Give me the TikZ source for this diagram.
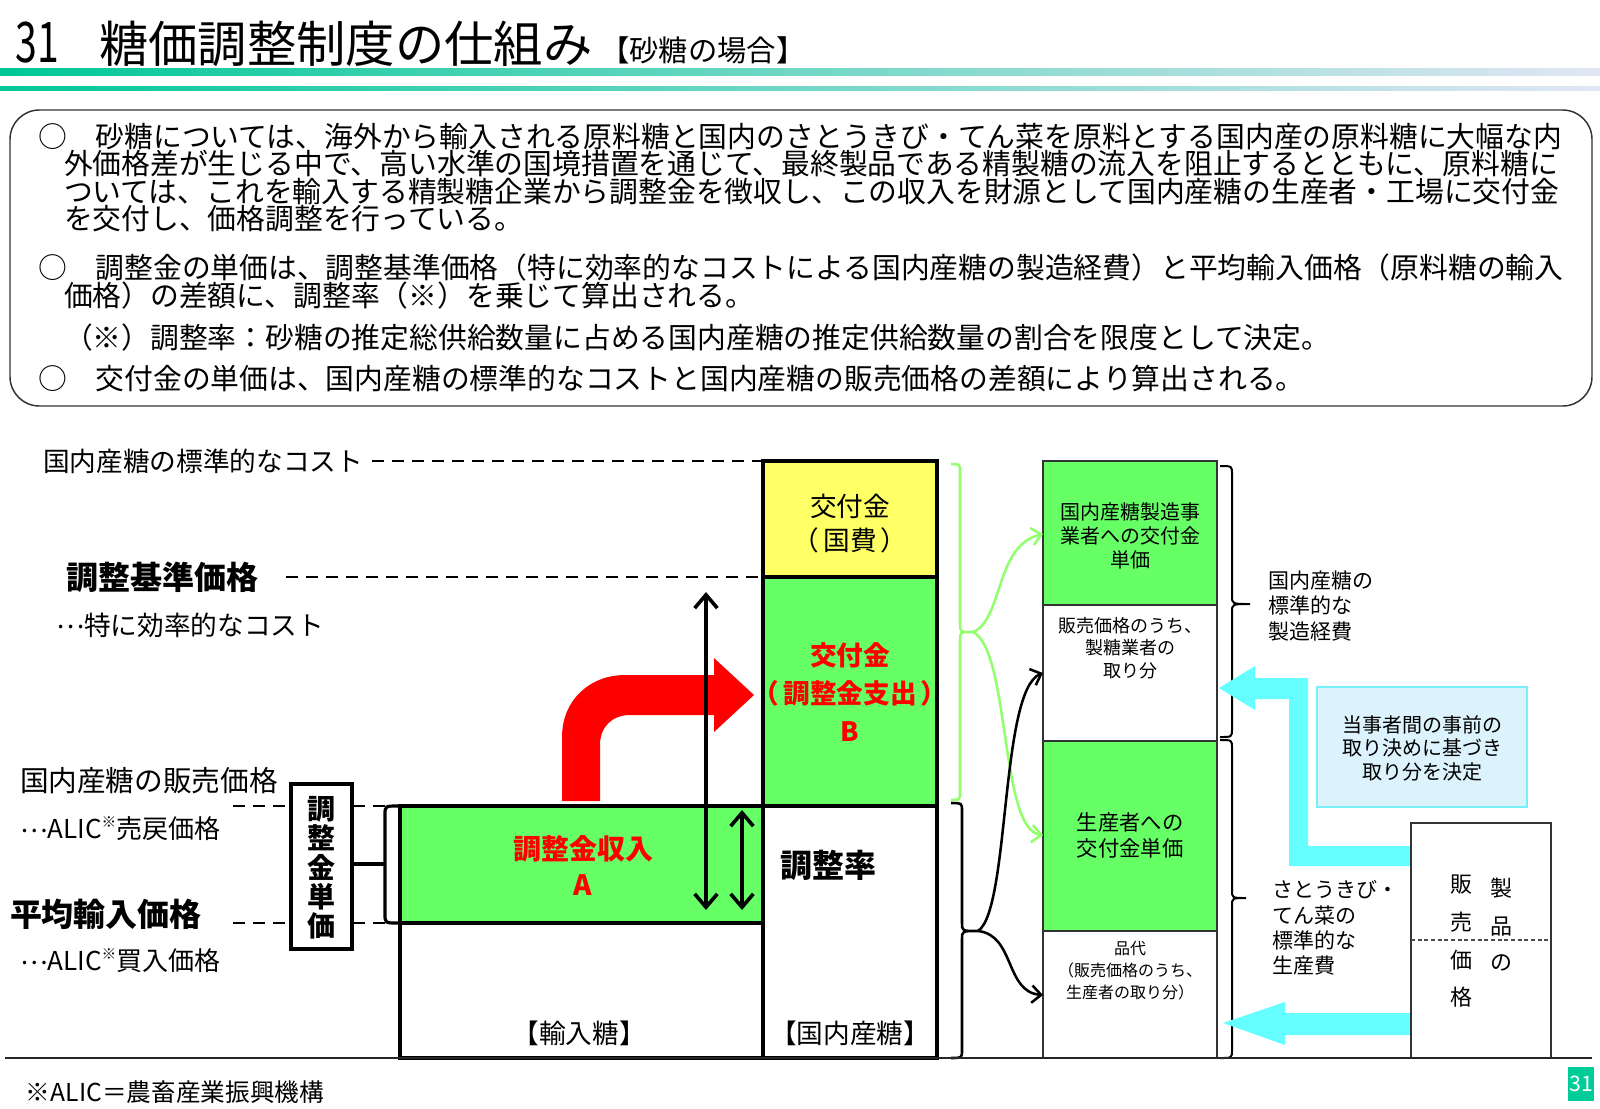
\documentclass[tikz,border=0pt]{standalone}
\usepackage{fontspec}
\usepackage{graphicx}
\setmainfont{Noto Sans CJK JP}
\usetikzlibrary{arrows.meta}
\definecolor{lgreen}{RGB}{102,255,102}
\definecolor{lyellow}{RGB}{255,255,102}
\definecolor{bracegreen}{RGB}{146,255,110}
\definecolor{cyanarrow}{RGB}{102,255,255}
\definecolor{cyanbox}{RGB}{220,242,252}
\definecolor{cyanborder}{RGB}{120,240,250}
\definecolor{tealA}{RGB}{0,200,150}
\definecolor{gradB}{RGB}{190,208,235}
\definecolor{gradC}{RGB}{225,230,245}
\definecolor{badge}{RGB}{0,204,153}
\newcommand{\fsz}[2]{\fontsize{#1}{#2}\selectfont}
\newcommand{\supmark}{\raisebox{0.42em}{\fsz{11}{11}※}}
\newcommand{\midell}{\raisebox{0.25em}{…}}
\newcommand{\mybrace}[7]{\draw[#1] (#2,#5) .. controls (#3,#5) .. (#3,#5+8) -- (#3,#6-8) .. controls (#3,#6) .. (#4,#6) .. controls (#3,#6) .. (#3,#6+8) -- (#3,#7-8) .. controls (#3,#7) .. (#2,#7);}
\tikzset{
  every node/.style={inner sep=0pt, outer sep=0pt},
  thickbox/.style={draw=black, line width=2.3pt},
  thinbox/.style={draw=black!80, line width=1.1pt},
  dl/.style={line width=2.1pt, dash pattern=on 9pt off 6pt},
  body/.style={anchor=base west, font=\fsz{21.6}{21.6}},
  dblarrow/.style={line width=2.7pt, {Straight Barb[length=10pt,width=17pt]}-{Straight Barb[length=10pt,width=17pt]}},
  curvarrow/.style={line width=1.9pt, -{Straight Barb[length=7pt,width=13pt]}},
}
\begin{document}
\begin{tikzpicture}[x=0.75pt,y=-0.75pt]
\useasboundingbox (0,0) rectangle (1600,1108);
\fill[white] (0,0) rectangle (1600,1108);

% ---------- title ----------
\node[anchor=base west, font=\fsz{42}{42}] (tnum) at (16,62) {\scalebox{0.7}[1]{31}};
\node[anchor=base west, font=\fsz{37}{37}] (title) at (99,62) {糖価調整制度の仕組み};
\node[anchor=base west, font=\fsz{22}{22}] (subtitle) at (600,61) {【砂糖の場合】};
\shade[left color=tealA, middle color=gradB, right color=gradC] (0,68) rectangle (1600,75);
\shade[left color=tealA, middle color=gradB, right color=gradC] (0,86) rectangle (1600,90);

% ---------- text box ----------
\draw[draw=black!80, line width=1.1pt, rounded corners=22pt] (10,110) rectangle (1592,406);
\node[body] (l1) at (38,147) {○　砂糖については、海外から輸入される原料糖と国内のさとうきび・てん菜を原料とする国内産の原料糖に大幅な内};
\node[body] (l2) at (64,174) {外価格差が生じる中で、高い水準の国境措置を通じて、最終製品である精製糖の流入を阻止するとともに、原料糖に};
\node[body] (l3) at (64,202) {ついては、これを輸入する精製糖企業から調整金を徴収し、この収入を財源として国内産糖の生産者・工場に交付金};
\node[body] (l4) at (64,229) {を交付し、価格調整を行っている。};
\node[body] (l5) at (38,278) {○　調整金の単価は、調整基準価格（特に効率的なコストによる国内産糖の製造経費）と平均輸入価格（原料糖の輸入};
\node[body] (l6) at (64,306) {価格）の差額に、調整率（※）を乗じて算出される。};
\node[body] (l7) at (64,348) {（※）調整率：砂糖の推定総供給数量に占める国内産糖の推定供給数量の割合を限度として決定。};
\node[body] (l8) at (38,389) {○　交付金の単価は、国内産糖の標準的なコストと国内産糖の販売価格の差額により算出される。};

% ---------- left labels and guide lines ----------
\node[anchor=west, font=\fsz{20}{20}] (lcost) at (43,461) {国内産糖の標準的なコスト};
\draw[dl] (372,461) -- (763,461);
\node[anchor=west, font=\bfseries\fsz{24}{24}] (kijun) at (66,577) {調整基準価格};
\draw[dl] (286,577) -- (763,577);
\node[anchor=west, font=\fsz{20}{20}] (kouritsu) at (56,625) {\midell 特に効率的なコスト};
\node[anchor=west, font=\fsz{21.5}{21.5}] (hanbai) at (20,781) {国内産糖の販売価格};
\node[anchor=west, font=\fsz{19.5}{19.5}] (uri) at (20,829) {\midell ALIC\supmark 売戻価格};
\node[anchor=west, font=\bfseries\fsz{24}{24}] (heikin) at (10,914) {平均輸入価格};
\node[anchor=west, font=\fsz{19.5}{19.5}] (kai) at (20,961) {\midell ALIC\supmark 買入価格};
\draw[dl] (233,806) -- (400,806);
\draw[dl] (233,923) -- (400,923);

% adjustment unit price box and brace
\draw[line width=2.6pt, fill=white] (291,784) rectangle (352,949);
\node[font=\bfseries\fsz{21}{22}, align=center] (tani) at (321.5,868) {調\\整\\金\\単\\価};
\draw[line width=2.4pt] (398,806) .. controls (385,806) .. (385,815) -- (385,914) .. controls (385,923) .. (398,923);
\draw[line width=2.4pt] (352,864) -- (385,864);

% ---------- bars ----------
\draw[thickbox, fill=lyellow] (763,461) rectangle (937,577);
\draw[thickbox, fill=lgreen] (763,577) rectangle (937,806);
\draw[thickbox, fill=white] (763,806) rectangle (937,1058);
\draw[thickbox, fill=lgreen] (400,806) rectangle (763,923);
\draw[thickbox, fill=white] (400,923) rectangle (763,1058);

\node[font=\fsz{20}{25.5}, align=center] (kofu) at (850,524) {交付金\\（\kern3pt 国費\kern3pt ）};
\node[font=\bfseries\fsz{20}{28.5}, align=center, text=red] (kofuB) at (850,692) {交付金\\（\kern3pt 調整金支出\kern3pt ）\\B};
\node[font=\bfseries\fsz{24}{24}] (ritsu) at (828,865) {調整率};
\node[font=\fsz{20}{20}] (kokunai) at (850,1033) {【国内産糖】};
\node[font=\bfseries\fsz{21}{27}, align=center, text=red] (shunyu) at (583,865) {調整金収入\\A};
\node[font=\fsz{20}{20}] (yunyu) at (579,1033) {【輸入糖】};

% red bent arrow
\fill[red] (562,801) -- (562,737) .. controls (562,700) and (590,675) .. (625,675) -- (714,675) -- (714,658) -- (754,695) -- (714,732) -- (714,715) -- (630,715) .. controls (612,715) and (600,727) .. (600,745) -- (600,801) -- cycle;

% black double arrows
\coordinate (ua) at (706,592);
\coordinate (ub) at (706,910);
\coordinate (va) at (742,810);
\coordinate (vb) at (742,910);
\draw[dblarrow] (ua) -- (ub);
\draw[dblarrow] (va) -- (vb);

% ---------- braces and curved arrows ----------
\mybrace{draw=bracegreen, line width=1.9pt}{951}{960}{973}{464}{632}{800}
\mybrace{draw=black, line width=1.9pt}{951}{962}{978}{803}{931}{1058}
\coordinate (gtip) at (973,632);
\coordinate (btip) at (978,931);

% ---------- right column ----------
\draw[thinbox, fill=lgreen] (1043,461) rectangle (1217,605);
\draw[thinbox, fill=white] (1043,605) rectangle (1217,741);
\draw[thinbox, fill=lgreen] (1043,741) rectangle (1217,931);
\draw[thinbox, fill=white] (1043,931) rectangle (1217,1058);
\coordinate (rc1) at (1043,534);
\coordinate (rc2) at (1043,673);
\coordinate (rc3) at (1043,835);
\coordinate (rc4) at (1043,995);

\node[font=\fsz{15}{18}, align=center] (rc1t) at (1130,536) {国内産糖製造事\\業者への交付金\\単価};
\node[font=\fsz{13.5}{17}, align=center] (rc2t) at (1130,648) {販売価格のうち、\\製糖業者の\\取り分};
\node[font=\fsz{16}{19.5}, align=center] (rc3t) at (1130,835) {生産者への\\交付金単価};
\node[font=\fsz{12}{16.5}, align=center] (rc4t) at (1130,971) {品代\\（販売価格のうち、\\生産者の取り分）};

\draw[curvarrow, bracegreen] (gtip) .. controls (1003,620) and (995,545) .. (rc1);
\draw[curvarrow, bracegreen] (gtip) .. controls (1010,650) and (1000,830) .. (rc3);
\draw[curvarrow, black] (btip) .. controls (1010,910) and (1000,690) .. (rc2);
\draw[curvarrow, black] (btip) .. controls (1015,935) and (1005,992) .. (rc4);

\mybrace{draw=black, line width=1.5pt}{1220}{1232}{1250}{466}{604}{737}
\mybrace{draw=black, line width=1.5pt}{1220}{1232}{1246}{740}{898}{1058}
\node[anchor=west, font=\fsz{15.75}{19}, align=left] (seizo) at (1268,606) {国内産糖の\\標準的な\\製造経費};
\node[anchor=west, font=\fsz{15.75}{19}, align=left] (seisan) at (1272,928) {さとうきび・\\てん菜の\\標準的な\\生産費};

% cyan arrows and box
\fill[cyanarrow] (1411,846) -- (1308,846) -- (1308,678) -- (1255,678) -- (1255,666) -- (1219,688) -- (1255,710) -- (1255,699) -- (1289,699) -- (1289,866) -- (1411,866) -- cycle;
\fill[cyanarrow] (1411,1013) -- (1285,1013) -- (1285,1002) -- (1223,1023) -- (1285,1045) -- (1285,1035) -- (1411,1035) -- cycle;
\draw[draw=cyanborder, line width=1.2pt, fill=cyanbox] (1317,687) rectangle (1527,807);
\node[font=\fsz{15}{17.6}, align=center] (kettei) at (1422,748) {当事者間の事前の\\取り決めに基づき\\取り分を決定};

% product price box
\draw[thinbox, fill=white] (1411,823) rectangle (1551,1058);
\draw[black!70, line width=0.8pt, densely dashed] (1411,940) -- (1551,940);
\node[font=\fsz{16.5}{16.5}] (p1) at (1461,885) {販};
\node[font=\fsz{16.5}{16.5}] (p2) at (1461,922) {売};
\node[font=\fsz{16.5}{16.5}] (p3) at (1461,960) {価};
\node[font=\fsz{16.5}{16.5}] (p4) at (1461,997) {格};
\node[font=\fsz{16.5}{16.5}] (q1) at (1501,888) {製};
\node[font=\fsz{16.5}{16.5}] (q2) at (1501,927) {品};
\node[font=\fsz{16.5}{16.5}] (q3) at (1501,963) {の};

% baseline
\draw[black!85, line width=1.5pt] (5,1058) -- (1592,1058);

% footnote and page badge
\node[anchor=west, font=\fsz{18.5}{18.5}] (note) at (26,1092) {※ALIC＝農畜産業振興機構};
\node[fill=badge, text=white, font=\fsz{16}{16}, minimum width=19.5pt, minimum height=25pt] (pg) at (1581,1084) {31};
\end{tikzpicture}
\end{document}
